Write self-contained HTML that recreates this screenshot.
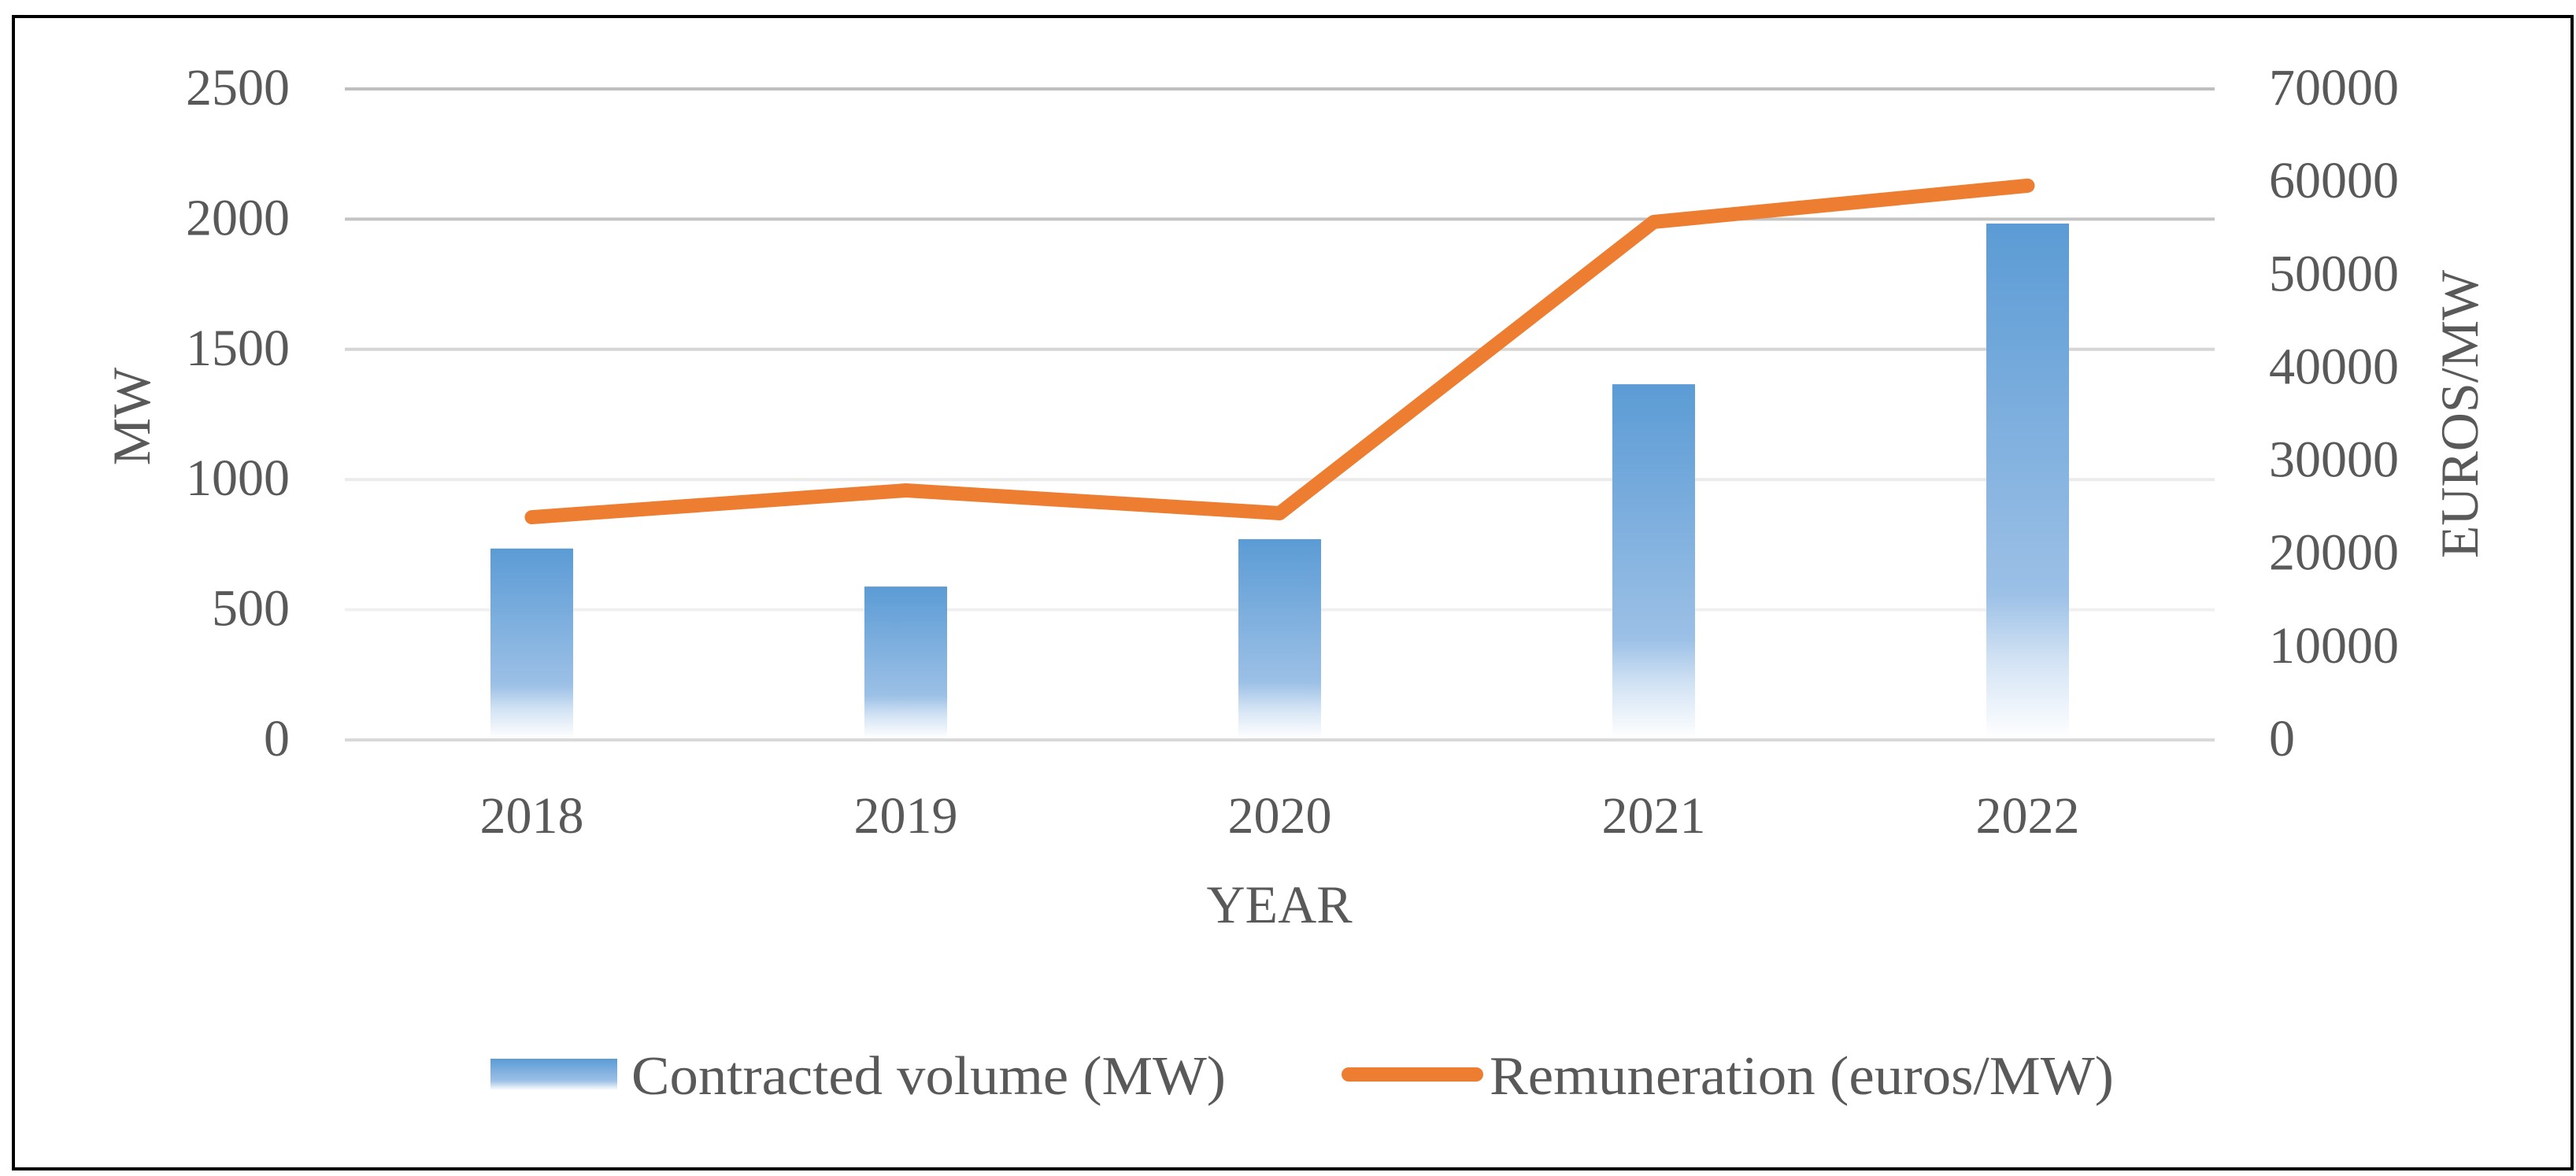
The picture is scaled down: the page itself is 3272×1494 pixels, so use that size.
<!DOCTYPE html>
<html><head><meta charset="utf-8"><style>
html,body{margin:0;padding:0;background:#fff;}
svg{display:block;}
text{font-family:"Liberation Serif",serif;fill:#595959;}
</style></head><body>
<svg id="chart" width="3272" height="1494" viewBox="0 0 3272 1494" xmlns="http://www.w3.org/2000/svg">
<defs>
<linearGradient id="barGrad" x1="0" y1="0" x2="0" y2="1">
<stop offset="0" stop-color="#5b9bd5"/>
<stop offset="0.72" stop-color="#9cc0e6"/>
<stop offset="0.85" stop-color="#d3e3f4"/>
<stop offset="1" stop-color="#ffffff"/>
</linearGradient>
<linearGradient id="legGrad" x1="0" y1="0" x2="0" y2="1">
<stop offset="0" stop-color="#5b9bd5"/>
<stop offset="0.7" stop-color="#9cc0e6"/>
<stop offset="1" stop-color="#ffffff"/>
</linearGradient>
</defs>
<rect x="17" y="21" width="3250" height="1464" fill="#fff" stroke="#000" stroke-width="4"/>
<g id="grid"></g>
<g id="bars"></g>
<g id="line"></g>
<g id="ticks"></g>
<text x="0" y="0" font-size="68" text-anchor="middle" transform="translate(190,529) rotate(-90)">MW</text>
<text x="0" y="0" font-size="68" text-anchor="middle" transform="translate(3147,526) rotate(-90)">EUROS/MW</text>
<text x="1625" y="1172" font-size="68" text-anchor="middle">YEAR</text>
<g>
<rect x="623" y="1345" width="161" height="40" fill="url(#legGrad)"/>
<text x="802" y="1390" font-size="70" textLength="755" lengthAdjust="spacingAndGlyphs">Contracted volume (MW)</text>
<line x1="1713" y1="1365" x2="1875" y2="1365" stroke="#ed7d31" stroke-width="18" stroke-linecap="round"/>
<text x="1892" y="1390" font-size="70" textLength="793" lengthAdjust="spacingAndGlyphs">Remuneration (euros/MW)</text>
</g>
</svg>
<script>
const years = ["2018","2019","2020","2021","2022"];
const volumeMW = [735, 589, 771, 1366, 1983];
const remuneration = [23950, 26830, 24380, 55700, 59600];
const leftTicks = [0, 500, 1000, 1500, 2000, 2500];
const rightTicks = [0, 10000, 20000, 30000, 40000, 50000, 60000, 70000];

const NS = "http://www.w3.org/2000/svg";
const plotL = 438, plotR = 2813, plotT = 113, plotB = 940;
const leftMax = 2500, rightMax = 70000;
const yL = v => plotB - (v / leftMax) * (plotB - plotT);
const yR = v => plotB - (v / rightMax) * (plotB - plotT);
const band = (plotR - plotL) / years.length;
const xC = i => plotL + band * (i + 0.5);
function mk(tag, attrs, parent) {
  const el = document.createElementNS(NS, tag);
  for (const k in attrs) el.setAttribute(k, attrs[k]);
  parent.appendChild(el);
  return el;
}
const grid = document.getElementById('grid');
const ticks = document.getElementById('ticks');
const gridColors = ["#d9d9d9", "#f0f0f0", "#ebebeb", "#d6d6d6", "#c4c4c4", "#bfbfbf"];
leftTicks.forEach((t, i) => {
  const g = mk('line', {x1: plotL, x2: plotR, y1: yL(t), y2: yL(t), stroke: gridColors[i] || "#d9d9d9", 'stroke-width': 4}, grid);
  
  
  const tx = mk('text', {x: 368, y: yL(t) + 20, 'font-size': 66, 'text-anchor': 'end'}, ticks);
  tx.textContent = t;
  
  
});
rightTicks.forEach(t => {
  const tx = mk('text', {x: 2882, y: yR(t) + 20, 'font-size': 66, 'text-anchor': 'start'}, ticks);
  tx.textContent = t;
  
  
});
const bars = document.getElementById('bars');
const bw = 105;
years.forEach((y, i) => {
  const b = mk('rect', {x: xC(i) - bw / 2, y: yL(volumeMW[i]), width: bw, height: plotB - 2 - yL(volumeMW[i]), fill: 'url(#barGrad)'}, bars);
  
  
  const tx = mk('text', {x: xC(i), y: 1058, 'font-size': 66, 'text-anchor': 'middle'}, ticks);
  tx.textContent = y;
  
  
});
const pts = remuneration.map((v, i) => xC(i) + ',' + yR(v)).join(' ');
const pl = mk('polyline', {points: pts, fill: 'none', stroke: '#ed7d31', 'stroke-width': 18, 'stroke-linecap': 'round', 'stroke-linejoin': 'round'}, document.getElementById('line'));


</script>
</body></html>
